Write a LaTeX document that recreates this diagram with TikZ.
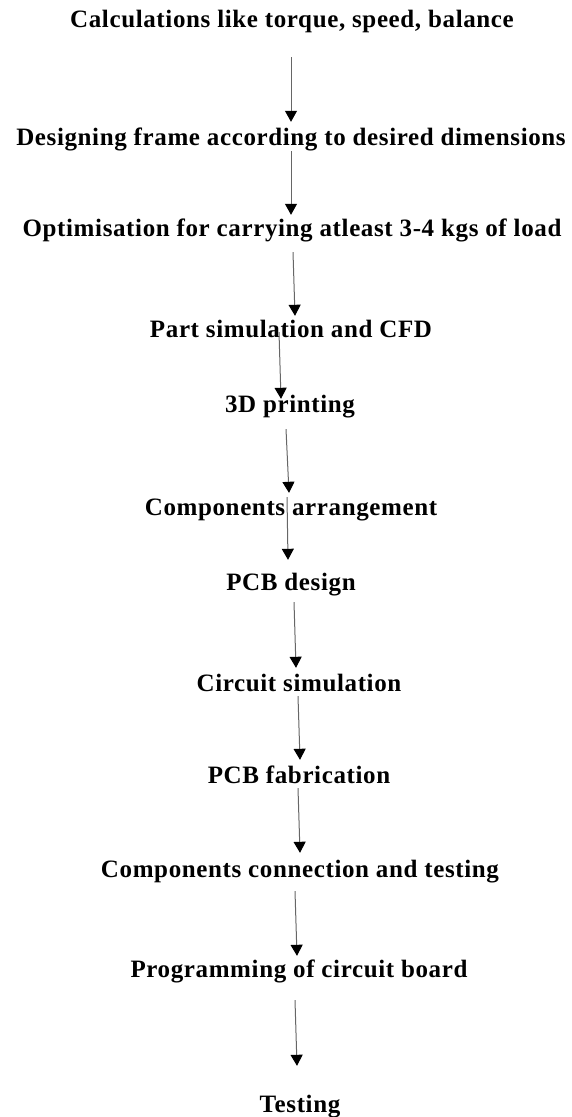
\documentclass[tikz,border=0pt]{standalone}
\usepackage{fontspec}
\setmainfont{Liberation Serif}[LetterSpace=2.5]
\usetikzlibrary{arrows.meta}
\tikzset{
  stage/.style={font=\fontsize{25}{30}\selectfont\bfseries, inner sep=0pt,
    anchor=base, text height=17pt, text depth=5pt},
  flow/.style={draw=black!60, line width=1pt,
    -{Triangle[width=12pt,length=11pt,color=black]}}
}
\begin{document}
\begin{tikzpicture}[x=1pt,y=-1pt]
\useasboundingbox (0,0) rectangle (572,1117);

% process stages, top to bottom
\node[stage] (n1)  at (292,27)   {Calculations like torque, speed, balance};
\node[stage] (n2)  at (291,145)  {Designing frame according to desired dimensions};
\node[stage] (n3)  at (292,236)  {Optimisation for carrying atleast 3-4 kgs of load};
\node[stage] (n4)  at (291,337)  {Part simulation and CFD};
\node[stage] (n5)  at (290,412)  {3D printing};
\node[stage] (n6)  at (291,515)  {Components arrangement};
\node[stage] (n7)  at (291,590)  {PCB design};
\node[stage] (n8)  at (299,691)  {Circuit simulation};
\node[stage] (n9)  at (299,783)  {PCB fabrication};
\node[stage] (n10) at (300,877)  {Components connection and testing};
\node[stage] (n11) at (299,977)  {Programming of circuit board};
\node[stage] (n12) at (300,1112) {Testing};

% connecting arrows
\draw[flow] ([xshift=-1pt,yshift=-25pt]n1.south)  -- ([xshift=0pt,yshift=6pt]n2.north);
\draw[flow] ([xshift=0pt,yshift=-1pt]n2.south)    -- ([xshift=-1pt,yshift=4pt]n3.north);
\draw[flow] ([xshift=1pt,yshift=-11pt]n3.south)   -- ([xshift=4pt,yshift=4pt]n4.north);
\draw[flow] ([xshift=-12pt,yshift=10pt]n4.south)  -- ([xshift=-9pt,yshift=-4pt]n5.north);
\draw[flow] ([xshift=-4pt,yshift=-12pt]n5.south)  -- ([xshift=-2pt,yshift=5pt]n6.north);
\draw[flow] ([xshift=-4pt,yshift=23pt]n6.south)   -- ([xshift=-3pt,yshift=13pt]n7.north);
\draw[flow] ([xshift=3pt,yshift=-7pt]n7.south)    -- ([xshift=-3pt,yshift=6pt]n8.north);
\draw[flow] ([xshift=-1pt,yshift=0pt]n8.south)    -- ([xshift=1pt,yshift=6pt]n9.north);
\draw[flow] ([xshift=-1pt,yshift=0pt]n9.south)    -- ([xshift=0pt,yshift=7pt]n10.north);
\draw[flow] ([xshift=-5pt,yshift=-9pt]n10.south)  -- ([xshift=-2pt,yshift=4pt]n11.north);
\draw[flow] ([xshift=-4pt,yshift=-18pt]n11.south) -- ([xshift=-3pt,yshift=29pt]n12.north);
\end{tikzpicture}
\end{document}
